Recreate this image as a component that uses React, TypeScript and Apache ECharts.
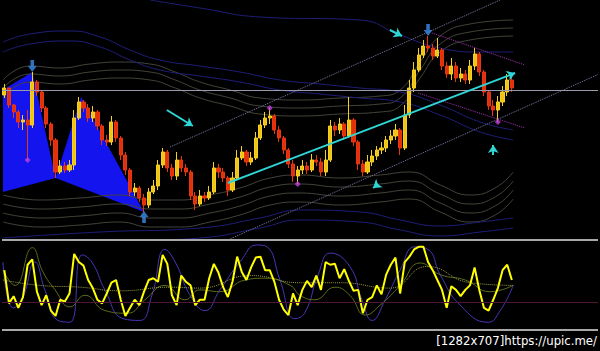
import React, { useEffect, useRef } from "react";
import * as echarts from "echarts";

// ---- price bars (chart units: 0 = bottom of price panel, 240 = top) ----
const firstOpen = 145;
const closes = [
  152, 135, 128, 118, 120, 115, 158, 148, 132, 116,
  100, 68, 74, 70, 75, 122, 138, 132, 122, 128,
  114, 100, 98, 118, 102, 85, 70, 48, 52, 42,
  35, 48, 54, 75, 88, 72, 64, 80, 72, 68,
  44, 36, 44, 42, 48, 72, 68, 62, 50, 62,
  82, 88, 78, 82, 102, 115, 122, 124, 110, 102,
  90, 76, 64, 70, 74, 70, 80, 78, 68, 80,
  114, 110, 116, 104, 120, 98, 76, 68, 78, 84,
  90, 92, 100, 104, 110, 92, 125, 152, 170, 185,
  194, 192, 184, 190, 174, 166, 174, 162, 166, 160,
  174, 186, 168, 148, 134, 130, 138, 148, 160, 152,
];
const highs = [
  156, 152, 136, 130, 125, 130, 168, 160, 150, 134,
  118, 102, 80, 78, 80, 130, 143, 140, 136, 134,
  130, 116, 105, 124, 120, 104, 88, 72, 57, 54,
  46, 52, 60, 80, 92, 90, 76, 88, 84, 76,
  70, 48, 50, 48, 54, 78, 76, 72, 64, 68,
  90, 94, 90, 88, 108, 120, 128, 132, 126, 114,
  104, 92, 80, 74, 80, 78, 86, 85, 82, 90,
  120, 118, 122, 118, 143, 122, 100, 80, 85, 90,
  94, 98, 104, 110, 116, 112, 135, 160, 178, 192,
  200, 204, 196, 202, 192, 178, 182, 178, 172, 170,
  180, 192, 188, 170, 150, 140, 144, 154, 166, 164,
];
const lows = [
  142, 132, 122, 112, 110, 80, 112, 144, 128, 112,
  94, 62, 66, 67, 68, 70, 120, 128, 118, 118,
  110, 95, 94, 95, 98, 80, 65, 44, 44, 38,
  28, 32, 46, 50, 72, 68, 60, 60, 68, 64,
  40, 30, 34, 38, 40, 46, 62, 58, 44, 48,
  60, 80, 74, 75, 80, 100, 112, 116, 106, 98,
  86, 72, 58, 56, 66, 66, 68, 74, 64, 64,
  78, 104, 106, 100, 102, 94, 70, 64, 66, 74,
  80, 86, 88, 96, 100, 85, 90, 122, 148, 168,
  182, 188, 180, 182, 170, 162, 160, 158, 158, 156,
  156, 170, 164, 144, 130, 124, 118, 134, 144, 148,
];
const TOTAL_SLOTS = 128;
const horizontalLevel = 150;

// ---- harmonic pattern polygons [bar, price] ----
const harmonicPatterns: [number, number][][] = [
  [[-0.3, 150], [6, 168], [11, 62], [-0.3, 48]],
  [[11, 62], [16.5, 143], [30, 28]],
];

// ---- envelope bands (keypoints [bar, price]) ----
const grayUpper: [number, number][] = [
  [-0.3, 160], [5.5, 174], [12, 172], [18.4, 176], [24.8, 178], [31.3, 176], [36.7, 168],
  [42, 158], [48.5, 150], [54.9, 142], [63.5, 140], [72.1, 142], [80.7, 144], [85, 150],
  [89.3, 178], [93.6, 204], [100, 216], [109.3, 220],
];
const grayUpperOffsets = [0, -8, -16];
const grayLower: [number, number][] = [
  [-0.3, 45], [7.7, 40], [16.3, 42], [24.8, 45], [31.3, 40], [37.7, 40], [44.2, 45],
  [50.6, 52], [57.1, 62], [63.5, 65], [72.1, 62], [80.7, 65], [87.1, 68], [93.6, 55],
  [100, 45], [105.4, 52], [109.3, 68],
];
const grayLowerOffsets = [0, -9, -18, -27];
const blueUpper: [number, number][] = [
  [-0.3, 198], [5.5, 206], [14.1, 209], [20.6, 203], [27, 190], [33.4, 180], [42, 174],
  [50.6, 168], [59.2, 160], [67.8, 156], [76.4, 152], [85, 148], [93.6, 135], [102.2, 118],
  [109.3, 110],
];
const blueUpperOffsets = [0, -10];
const blueTop: [number, number][] = [
  [31.3, 240], [42, 232], [54.9, 223], [76.4, 220], [85, 205], [93.6, 192], [102.2, 188], [109.3, 188],
];
const blueLower: [number, number][] = [
  [-0.3, 2], [20.6, 8], [42, 12], [54.9, 22], [63.5, 30], [76.4, 28], [85, 20], [93.6, 14],
  [102.2, 18], [109.3, 22],
];
const blueLowerOffsets = [0, -10];

// ---- channels and trend lines ----
const channelUpper: [number, number][] = [[35.6, 93], [106.5, 240]];
const channelLower: [number, number][] = [[48, 0], [127.5, 165.5]];
const pinkUpper: [number, number][] = [[91.9, 207], [111.8, 175]];
const pinkLower: [number, number][] = [[88.9, 147], [111.8, 112]];
const trendLine: [number, number][] = [[48, 57], [109.7, 167]];
const cyanArrows: [number, number][][] = [
  [[34.9, 130], [40.5, 114]],
  [[82.8, 210], [85.4, 204]],
  [[80.3, 56], [79.2, 52]],
  [[105, 85], [105, 95]],
];

// ---- signal markers ----
const downArrows: [number, number][] = [[6, 168], [91, 204]];
const upArrows: [number, number][] = [[30, 28]];
const pinkMarks: [number, number][] = [[5, 80], [57, 132], [63, 56], [106, 118]];

// ---- oscillator (0..100) ----
const osc = [
  66, 29, 37, 24, 36, 72, 78, 42, 27, 38,
  21, 15, 33, 31, 40, 84, 75, 71, 55, 46,
  33, 29, 40, 52, 55, 33, 15, 24, 33, 27,
  42, 55, 57, 53, 83, 73, 38, 27, 60, 53,
  49, 27, 33, 33, 57, 73, 63, 47, 36, 53,
  81, 64, 55, 69, 80, 81, 66, 66, 53, 33,
  22, 16, 40, 27, 44, 54, 47, 60, 44, 75,
  72, 73, 57, 67, 54, 43, 44, 18, 33, 36,
  49, 39, 61, 72, 80, 40, 75, 81, 89, 92,
  92, 75, 66, 55, 44, 24, 48, 44, 37, 44,
  49, 69, 44, 24, 21, 33, 46, 66, 72, 55,
];
const oscBlue: [number, number][] = [
  [-0.3, 75], [1.9, 24], [3.8, 33], [6.6, 75], [8.7, 44], [11.5, 10], [14.1, 8], [16.7, 83],
  [18.8, 75], [21.6, 44], [25.5, 12], [29.1, 10], [31.7, 38], [34.5, 89], [36.7, 75], [39.9, 38],
  [43.1, 21], [46.3, 44], [50.6, 75], [54.3, 94], [56.4, 92], [59.2, 55], [62.4, 12], [64.6, 19],
  [67.4, 61], [70, 85], [74.2, 70], [76.8, 33], [79, 10], [81.8, 33], [85, 66], [88.2, 92],
  [91, 89], [93.6, 61], [97.9, 27], [103.9, 8], [106.5, 21], [109.3, 49],
];
const oscOlive: [number, number][] = [
  [-0.3, 66], [2.3, 49], [6, 91], [8.3, 64], [10.9, 44], [14.1, 25], [17.3, 38], [21.6, 21],
  [26.4, 18], [30.2, 33], [34.5, 49], [38.8, 33], [42, 44], [46.3, 42], [51.7, 55], [56, 57],
  [61.4, 49], [63.5, 38], [66.7, 33], [71, 47], [74.2, 38], [77.5, 16], [80.7, 27], [85, 49],
  [89.3, 74], [93.6, 61], [99, 55], [104.3, 42], [109.3, 49],
];
const oscSignal: [number, number][] = [
  [-0.3, 55], [7.7, 49], [16.3, 47], [24.9, 43], [35.6, 47], [42, 46], [52.8, 60], [63.5, 52],
  [72.1, 52], [82.8, 46], [90.8, 70], [100, 52], [109.3, 49],
];
const oscLevels = [100, 0];
const oscMidLevel = 30;

const categories = Array.from({ length: TOTAL_SLOTS }, (_, i) => String(i + 1));

export default function App() {
  const ref = useRef<HTMLDivElement>(null);
  useEffect(() => {
    if (!ref.current) return;
    const chart = echarts.init(ref.current, undefined, { renderer: "svg" });
    const candleData = closes.map((c, i) => [i === 0 ? firstOpen : closes[i - 1], c, lows[i], highs[i]]);

    const bandSeries: any[] = [];
    const addBand = (base: [number, number][], offsets: number[], color: string) => {
      offsets.forEach((off) => {
        bandSeries.push({
          type: "line", xAxisIndex: 1, yAxisIndex: 0, smooth: true, symbol: "none", silent: true, z: 1,
          lineStyle: { color, width: 1 },
          data: base.map(([x, v]) => [x, v + off]),
        });
      });
    };
    addBand(grayUpper, grayUpperOffsets, "#43433a");
    addBand(grayLower, grayLowerOffsets, "#43433a");
    addBand(blueUpper, blueUpperOffsets, "#1e1e78");
    addBand(blueTop, [0], "#1e1e78");
    addBand(blueLower, blueLowerOffsets, "#1e1e78");

    const straight = (data: [number, number][], color: string, type: string, width = 1) => ({
      type: "line", xAxisIndex: 1, yAxisIndex: 0, symbol: "none", silent: true, z: 4,
      lineStyle: { color, width, type }, data,
    });

    const option: any = {
      animation: false,
      backgroundColor: "#000000",
      grid: [
        { left: 2, right: 2, top: 0, height: 240 },
        { left: 2, right: 2, top: 236, height: 97 },
      ],
      xAxis: [
        { type: "category", gridIndex: 0, data: categories, show: false, boundaryGap: true },
        { type: "value", gridIndex: 0, min: -0.5, max: TOTAL_SLOTS - 0.5, show: false },
        { type: "value", gridIndex: 1, min: -0.5, max: TOTAL_SLOTS - 0.5, show: false },
      ],
      yAxis: [
        { type: "value", gridIndex: 0, min: 0, max: 240, show: false },
        { type: "value", gridIndex: 1, min: -4, max: 104, show: false },
      ],
      graphic: [
        {
          type: "text", x: 597, y: 334, silent: true,
          style: {
            text: "[1282x707]https://upic.me/", fill: "#ffffff", fontSize: 13,
            fontFamily: "'Liberation Sans Narrow', 'DejaVu Sans Condensed', 'DejaVu Sans', sans-serif",
            align: "right", verticalAlign: "top",
          },
        },
      ],
      series: [
        {
          type: "custom", xAxisIndex: 1, yAxisIndex: 0, z: 1, silent: true,
          data: harmonicPatterns.map((p) => p[0]),
          renderItem: (params: any, api: any) => {
            const poly = harmonicPatterns[params.dataIndex];
            return {
              type: "polygon",
              shape: { points: poly.map((p) => api.coord(p)) },
              style: { fill: "#1414ee" },
            };
          },
        },
        ...bandSeries,
        {
          type: "candlestick", xAxisIndex: 0, yAxisIndex: 0, barWidth: 3.6, z: 3, silent: true,
          itemStyle: { color: "#f0c414", color0: "#e2300c", borderColor: "#f5d020", borderColor0: "#e8360e", borderWidth: 1 },
          data: candleData,
          markLine: {
            silent: true, symbol: "none", label: { show: false },
            lineStyle: { color: "#9a9aaa", width: 1, type: "solid" },
            data: [{ yAxis: horizontalLevel }],
          },
        },
        straight(channelUpper, "#7c7ca8", "dotted"),
        straight(channelLower, "#7c7ca8", "dotted"),
        straight(pinkUpper, "#a432b4", "dotted"),
        straight(pinkLower, "#a432b4", "dotted"),
        {
          type: "scatter", xAxisIndex: 1, yAxisIndex: 0, z: 5, silent: true,
          symbol: "diamond", symbolSize: 6, itemStyle: { color: "#c040e0" },
          data: pinkMarks,
          markLine: {
            silent: true, symbol: ["none", "arrow"], symbolSize: 8, label: { show: false },
            lineStyle: { color: "#2fd6d6", width: 2, type: "solid" },
            data: [
              [{ coord: trendLine[0] }, { coord: trendLine[1] }],
              ...cyanArrows.map(([a, b]) => [{ coord: a }, { coord: b }]),
            ],
          },
        },
        {
          type: "scatter", xAxisIndex: 1, yAxisIndex: 0, z: 5, silent: true,
          symbol: "path://M3,0H7V6H10L5,12L0,6H3Z", symbolSize: [9, 12], symbolOffset: [0, -6],
          itemStyle: { color: "#3c8ce8" }, data: downArrows,
        },
        {
          type: "scatter", xAxisIndex: 1, yAxisIndex: 0, z: 5, silent: true,
          symbol: "path://M5,0L10,6H7V12H3V6H0Z", symbolSize: [9, 12], symbolOffset: [0, 5],
          itemStyle: { color: "#3c8ce8" }, data: upArrows,
        },
        // oscillator panel
        {
          type: "line", xAxisIndex: 2, yAxisIndex: 1, symbol: "none", silent: true, smooth: true, z: 2,
          lineStyle: { color: "#4636b8", width: 1 }, data: oscBlue,
        },
        {
          type: "line", xAxisIndex: 2, yAxisIndex: 1, symbol: "none", silent: true, smooth: true, z: 2,
          lineStyle: { color: "#5c6c1a", width: 1 }, data: oscOlive,
        },
        {
          type: "line", xAxisIndex: 2, yAxisIndex: 1, symbol: "none", silent: true, smooth: true, z: 2,
          lineStyle: { color: "#9a9a40", width: 1, type: "dotted" }, data: oscSignal,
        },
        {
          type: "line", xAxisIndex: 2, yAxisIndex: 1, symbol: "none", silent: true, z: 3,
          lineStyle: { color: "#ffff00", width: 2 },
          data: osc.map((v, i) => [i, v]),
          markLine: {
            silent: true, symbol: "none", label: { show: false },
            data: [
              ...oscLevels.map((lv) => ({ yAxis: lv, lineStyle: { color: "#a8a8a8", width: 2, type: "solid" } })),
              { yAxis: oscMidLevel, lineStyle: { color: "#4e1636", width: 1, type: "solid" } },
            ],
          },
        },
      ],
    };
    chart.setOption(option);
    return () => chart.dispose();
  }, []);
  return (
    <div
      ref={ref}
      style={{ position: "fixed", left: 0, top: 0, width: 600, height: 351, background: "#000" }}
    />
  );
}
